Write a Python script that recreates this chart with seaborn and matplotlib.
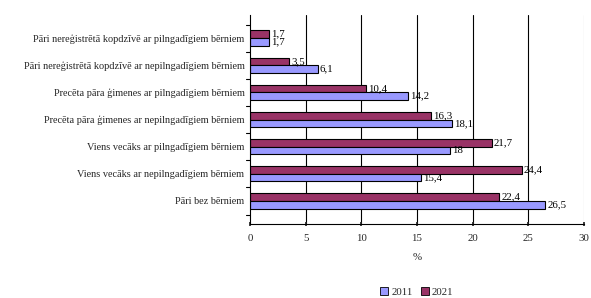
import matplotlib
matplotlib.use("Agg")
import matplotlib.pyplot as plt
import pandas as pd
import seaborn as sns
from matplotlib.patches import Patch

categories = [
    "Pāri nereģistrētā kopdzīvē ar pilngadīgiem bērniem",
    "Pāri nereģistrētā kopdzīvē ar nepilngadīgiem bērniem",
    "Precēta pāra ģimenes ar pilngadīgiem bērniem",
    "Precēta pāra ģimenes ar nepilngadīgiem bērniem",
    "Viens vecāks ar pilngadīgiem bērniem",
    "Viens vecāks ar nepilngadīgiem bērniem",
    "Pāri bez bērniem",
]
values_2011 = [1.7, 6.1, 14.2, 18.1, 18.0, 15.4, 26.5]
values_2021 = [1.7, 3.5, 10.4, 16.3, 21.7, 24.4, 22.4]
years = ["2011", "2021"]
colors = {"2011": "#9999FF", "2021": "#993366"}

df = pd.DataFrame({
    "cat": categories * 2,
    "year": ["2011"] * len(categories) + ["2021"] * len(categories),
    "val": values_2011 + values_2021,
})

sns.set_theme(style="white")
plt.rcParams["font.family"] = ["Liberation Serif", "DejaVu Serif"]
fs = 7.8

fig = plt.figure(figsize=(5.91, 2.98), dpi=100)
ax = fig.add_axes([250 / 591, 1 - 224 / 298, 334 / 591, 209 / 298])

sns.barplot(
    data=df, y="cat", x="val", hue="year", order=categories,
    hue_order=["2021", "2011"], palette=colors, orient="h", saturation=1,
    width=0.56, edgecolor="black", linewidth=0.8, ax=ax, legend=False,
)

def fmt(v):
    return f"{v:g}".replace(".", ",")

for cont in ax.containers:
    ax.bar_label(cont, labels=[fmt(b.get_width()) for b in cont],
                 padding=1.5, fontsize=fs, color="black")

ax.set_xlim(0, 30)
ax.set_xticks(range(0, 31, 5))
ax.set_xlabel("%", fontsize=fs, labelpad=7)
ax.set_ylabel("")
ax.tick_params(axis="x", labelsize=fs, length=3, direction="inout", pad=6, bottom=True)
ax.tick_params(axis="y", labelsize=7.4, length=0, pad=4)
ax.set_yticks(range(len(categories)))
ax.set_yticklabels(categories)

# category separators on left spine
for i in range(len(categories) + 1):
    ax.plot([-0.012, 0], [i - 0.5, i - 0.5], transform=ax.get_yaxis_transform(),
            color="black", lw=0.8, clip_on=False)

for x in range(5, 30, 5):
    ax.axvline(x, color="black", lw=0.8, zorder=0)
ax.axvline(30, color="#aaaaaa", lw=0.8, zorder=0)

for side in ["top", "right"]:
    ax.spines[side].set_visible(False)
for side in ["left", "bottom"]:
    ax.spines[side].set_color("black")
    ax.spines[side].set_linewidth(0.8)

handles = [Patch(facecolor=colors[y], edgecolor="black", linewidth=0.6, label=y) for y in years]
fig.legend(handles=handles, loc="center", bbox_to_anchor=(417 / 591, 1 - 292 / 298),
           ncol=2, frameon=False, fontsize=fs, handlelength=0.7, handleheight=0.7,
           handletextpad=0.3, columnspacing=0.8)

fig.savefig("out.png", dpi=100)
